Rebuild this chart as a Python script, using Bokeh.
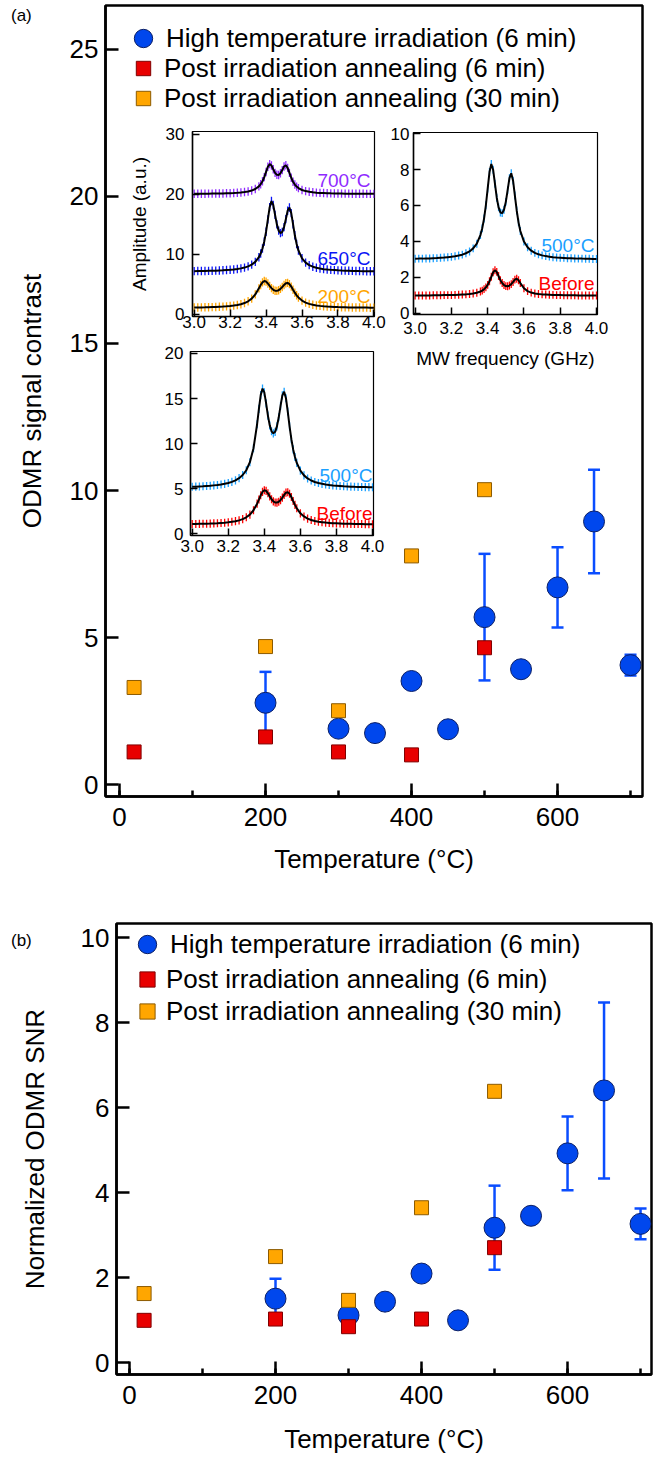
from bokeh.plotting import figure
from bokeh.layouts import column
from bokeh.models import (Range1d, SingleIntervalTicker, Legend, LegendItem, Whisker,
                          TeeHead, ColumnDataSource, Label, PrintfTickFormatter, Div)
from bokeh.embed import file_html
from bokeh.resources import INLINE

FONT = "Liberation Sans"

# ---------------- main data ----------------
series_labels = ["High temperature irradiation (6 min)",
                 "Post irradiation annealing (6 min)",
                 "Post irradiation annealing (30 min)"]

temp_hti = [200, 300, 350, 400, 450, 500, 550, 600, 650, 700]
contrast_hti = [2.79, 1.91, 1.76, 3.53, 1.89, 5.70, 3.93, 6.71, 8.95, 4.07]
temp_err = [200, 500, 600, 650, 700]
contrast_err = [1.05, 2.15, 1.36, 1.76, 0.35]

temp_pia = [20, 200, 300, 400, 500]
contrast_pia6 = [1.12, 1.63, 1.12, 1.02, 4.66]
contrast_pia30 = [3.31, 4.70, 2.52, 7.78, 10.03]

snr_hti = [1.51, 1.12, 1.44, 2.10, 1.00, 3.18, 3.46, 4.93, 6.41, 3.27]
snr_err = [0.47, 0.99, 0.87, 2.07, 0.36]
snr_pia6 = [1.00, 1.03, 0.85, 1.03, 2.71]
snr_pia30 = [1.63, 2.50, 1.47, 3.65, 6.39]

# ---------------- inset spectra (MW frequency in GHz) ----------------
freq = [3.00, 3.02, 3.04, 3.06, 3.08, 3.10, 3.12, 3.14, 3.16, 3.18, 3.20, 3.22, 3.24,
        3.26, 3.28, 3.30, 3.32, 3.34, 3.36,
        3.37, 3.38, 3.39, 3.40, 3.41, 3.42, 3.43, 3.44, 3.45, 3.46, 3.47, 3.48, 3.49,
        3.50, 3.51, 3.52, 3.53, 3.54, 3.55, 3.56, 3.57,
        3.58, 3.60, 3.62, 3.64, 3.66, 3.68, 3.70, 3.72, 3.74, 3.76, 3.78, 3.80, 3.82,
        3.84, 3.86, 3.88, 3.90, 3.92, 3.94, 3.96, 3.98, 4.00]

amp_hti_700 = [20.05, 20.05, 20.06, 20.06, 20.07, 20.08, 20.09, 20.10, 20.11, 20.13, 20.15, 20.18, 20.22,
               20.27, 20.34, 20.44, 20.59, 20.85, 21.29,
               21.65, 22.14, 22.83, 23.69, 24.55, 25.00, 24.76, 24.13, 23.54, 23.21, 23.19, 23.47, 24.00,
               24.59, 24.80, 24.36, 23.54, 22.72, 22.06, 21.59, 21.25,
               21.00, 20.68, 20.50, 20.38, 20.30, 20.24, 20.20, 20.17, 20.14, 20.12, 20.11, 20.09, 20.08,
               20.07, 20.07, 20.06, 20.05, 20.05, 20.05, 20.04, 20.04, 20.04]
amp_hti_650 = [7.16, 7.17, 7.18, 7.19, 7.21, 7.22, 7.24, 7.27, 7.30, 7.34, 7.38, 7.44, 7.52,
               7.62, 7.75, 7.95, 8.24, 8.70, 9.48,
               10.09, 10.93, 12.11, 13.73, 15.79, 17.82, 18.84, 18.19, 16.54, 14.95, 13.91, 13.49, 13.69,
               14.50, 15.83, 17.22, 17.76, 16.82, 14.98, 13.13, 11.67,
               10.61, 9.30, 8.58, 8.16, 7.90, 7.72, 7.59, 7.49, 7.42, 7.37, 7.33, 7.29, 7.26,
               7.24, 7.22, 7.20, 7.19, 7.17, 7.16, 7.15, 7.15, 7.14]
amp_hti_200 = [1.10, 1.11, 1.12, 1.13, 1.15, 1.17, 1.19, 1.22, 1.25, 1.29, 1.35, 1.42, 1.52,
               1.65, 1.84, 2.13, 2.58, 3.28, 4.29,
               4.84, 5.29, 5.51, 5.42, 5.10, 4.70, 4.33, 4.05, 3.90, 3.87, 3.97, 4.20, 4.51,
               4.86, 5.14, 5.20, 5.00, 4.58, 4.06, 3.57, 3.13,
               2.77, 2.25, 1.92, 1.70, 1.55, 1.44, 1.37, 1.31, 1.26, 1.23, 1.20, 1.17, 1.15,
               1.14, 1.12, 1.11, 1.10, 1.09, 1.09, 1.08, 1.07, 1.07]
amp_pia6_500 = [3.03, 3.04, 3.04, 3.05, 3.05, 3.06, 3.07, 3.09, 3.10, 3.12, 3.14, 3.17, 3.21,
                3.26, 3.34, 3.44, 3.61, 3.87, 4.35,
                4.73, 5.27, 6.01, 6.94, 7.86, 8.31, 7.99, 7.21, 6.43, 5.89, 5.61, 5.57, 5.76,
                6.20, 6.85, 7.52, 7.79, 7.38, 6.55, 5.72, 5.06,
                4.58, 3.99, 3.67, 3.48, 3.36, 3.28, 3.22, 3.18, 3.15, 3.12, 3.10, 3.09, 3.08,
                3.06, 3.06, 3.05, 3.04, 3.04, 3.03, 3.03, 3.02, 3.02]
amp_pia6_before = [0.99, 0.99, 0.99, 0.99, 0.99, 1.00, 1.00, 1.00, 1.01, 1.01, 1.01, 1.02, 1.03,
                   1.04, 1.05, 1.07, 1.10, 1.14, 1.21,
                   1.26, 1.34, 1.44, 1.58, 1.78, 2.03, 2.28, 2.39, 2.30, 2.07, 1.84, 1.68, 1.57,
                   1.51, 1.50, 1.54, 1.62, 1.74, 1.87, 1.92, 1.84,
                   1.68, 1.39, 1.23, 1.15, 1.10, 1.07, 1.05, 1.04, 1.03, 1.02, 1.01, 1.01, 1.00,
                   1.00, 1.00, 1.00, 0.99, 0.99, 0.99, 0.99, 0.99, 0.99]
amp_pia30_500 = [5.21, 5.23, 5.25, 5.27, 5.30, 5.33, 5.37, 5.41, 5.47, 5.54, 5.64, 5.76, 5.93,
                 6.17, 6.52, 7.05, 7.94, 9.49, 12.15,
                 13.85, 15.38, 16.11, 15.68, 14.46, 13.11, 12.03, 11.37, 11.14, 11.31, 11.91, 12.92, 14.19,
                 15.35, 15.75, 15.04, 13.56, 11.92, 10.49, 9.36, 8.51,
                 7.86, 7.00, 6.48, 6.14, 5.91, 5.75, 5.63, 5.54, 5.47, 5.41, 5.36, 5.33, 5.30,
                 5.27, 5.25, 5.23, 5.21, 5.20, 5.19, 5.18, 5.17, 5.16]
amp_pia30_before = [1.08, 1.09, 1.10, 1.11, 1.12, 1.13, 1.15, 1.17, 1.20, 1.23, 1.27, 1.33, 1.40,
                    1.49, 1.63, 1.83, 2.13, 2.61, 3.34,
                    3.80, 4.27, 4.65, 4.83, 4.76, 4.49, 4.15, 3.83, 3.60, 3.47, 3.46, 3.55, 3.74,
                    4.01, 4.32, 4.56, 4.61, 4.44, 4.08, 3.63, 3.21,
                    2.83, 2.27, 1.92, 1.68, 1.53, 1.42, 1.34, 1.29, 1.24, 1.21, 1.18, 1.16, 1.14,
                    1.12, 1.11, 1.10, 1.09, 1.08, 1.08, 1.07, 1.06, 1.06]

# ---------------- colours ----------------
BLUE, BLUE_EDGE, BAR = "#0047ED", "#0B1F66", "#0A4DFF"
RED, RED_EDGE = "#E80000", "#800000"
ORANGE, ORANGE_EDGE = "#FFA600", "#8C5A00"
PURPLE, BLUE650, ORANGE200, SKY, REDB = "#8F2BFF", "#0A14F5", "#FFA500", "#1AA0FF", "#FF0000"


def no_align(f):
    try:
        f.frame_align = False
    except Exception:
        pass


def style_main_axes(p, x_so, x_lso, y_so, y_lso):
    for ax in (p.xaxis[0], p.yaxis[0]):
        ax.axis_line_width = 2.5
        ax.axis_line_color = "black"
        ax.major_tick_in = 13
        ax.major_tick_out = 0
        ax.major_tick_line_width = 2.5
        ax.major_tick_line_color = "black"
        ax.minor_tick_in = 6
        ax.minor_tick_out = 0
        ax.minor_tick_line_width = 2.5
        ax.minor_tick_line_color = "black"
        ax.major_label_text_font = FONT
        ax.major_label_text_font_size = "26px"
        ax.major_label_text_color = "black"
        ax.axis_label_text_font = FONT
        ax.axis_label_text_font_size = "26px"
        ax.axis_label_text_font_style = "normal"
        ax.axis_label_text_color = "black"
    p.yaxis[0].minor_tick_line_color = None
    p.xaxis[0].major_label_standoff = x_so
    p.xaxis[0].axis_label_standoff = x_lso
    p.yaxis[0].major_label_standoff = y_so
    p.yaxis[0].axis_label_standoff = y_lso


def key_legend(p, renderer, label, loc, box, standoff, font="26px"):
    lg = Legend(items=[LegendItem(label=label, renderers=[renderer])], location=loc,
                glyph_width=box, glyph_height=box, label_height=box,
                label_standoff=standoff, padding=0, margin=0, spacing=0)
    lg.border_line_color = None
    lg.background_fill_alpha = 0
    lg.label_text_font = FONT
    lg.label_text_font_size = font
    lg.label_text_color = "black"
    p.add_layout(lg)


def main_panel(width, height, xr, yr, mb, ystep, ylabel, yvals, evals, v6, v30,
               legs, x_so, x_lso, y_so, y_lso):
    p = figure(width=width, height=height, x_range=Range1d(*xr), y_range=Range1d(*yr),
               min_border_left=mb[0], min_border_right=mb[1], min_border_top=mb[2],
               min_border_bottom=mb[3], output_backend="svg", toolbar_location=None)
    no_align(p)
    p.grid.visible = False
    p.outline_line_color = "black"
    p.outline_line_width = 2.5
    p.background_fill_color = "white"
    p.border_fill_color = "white"
    p.xaxis.ticker = SingleIntervalTicker(interval=200, num_minor_ticks=2)
    p.yaxis.ticker = SingleIntervalTicker(interval=ystep, num_minor_ticks=0)
    p.xaxis.axis_label = "Temperature (°C)"
    p.yaxis.axis_label = ylabel
    style_main_axes(p, x_so, x_lso, y_so, y_lso)

    centre = dict(zip(temp_hti, yvals))
    src = ColumnDataSource(dict(x=temp_err,
                                lower=[centre[t] - e for t, e in zip(temp_err, evals)],
                                upper=[centre[t] + e for t, e in zip(temp_err, evals)]))
    wk = Whisker(source=src, base="x", lower="lower", upper="upper", level="underlay",
                 line_color=BAR, line_width=2.5,
                 upper_head=TeeHead(size=12, line_color=BAR, line_width=2.5),
                 lower_head=TeeHead(size=12, line_color=BAR, line_width=2.5))
    p.add_layout(wk)

    r0 = p.scatter(temp_hti, yvals, marker="circle", size=21, fill_color=BLUE,
                   line_color=BLUE_EDGE, line_width=1)
    r1 = p.scatter(temp_pia, v6, marker="square", size=14, fill_color=RED,
                   line_color=RED_EDGE, line_width=1)
    r2 = p.scatter(temp_pia, v30, marker="square", size=14, fill_color=ORANGE,
                   line_color=ORANGE_EDGE, line_width=1)

    for r, lab, (loc, box, so) in zip((r0, r1, r2), series_labels, legs):
        key_legend(p, r, lab, loc, box, so)
    return p


def inset(fw, fh, xr, yr, borders, ystep, margin, x_so, y_so):
    ml, mr, mt, mb = borders
    f = figure(width=ml + fw + mr, height=mt + fh + mb, x_range=Range1d(*xr),
               y_range=Range1d(*yr), min_border_left=ml, min_border_right=mr,
               min_border_top=mt, min_border_bottom=mb, output_backend="svg",
               toolbar_location=None, margin=margin)
    no_align(f)
    f.grid.visible = False
    f.background_fill_color = "white"
    f.border_fill_color = None
    f.outline_line_color = "black"
    f.outline_line_width = 1.2
    f.xaxis.ticker = SingleIntervalTicker(interval=0.2, num_minor_ticks=0)
    f.xaxis.formatter = PrintfTickFormatter(format="%.1f")
    f.yaxis.ticker = SingleIntervalTicker(interval=ystep, num_minor_ticks=0)
    for ax, so in ((f.xaxis[0], x_so), (f.yaxis[0], y_so)):
        ax.axis_line_width = 1.5
        ax.axis_line_color = "black"
        ax.major_tick_in = 7
        ax.major_tick_out = 0
        ax.major_tick_line_width = 1.5
        ax.major_tick_line_color = "black"
        ax.minor_tick_line_color = None
        ax.major_label_text_font = FONT
        ax.major_label_text_font_size = "17px"
        ax.major_label_text_color = "black"
        ax.major_label_standoff = so
        ax.axis_label_text_font = FONT
        ax.axis_label_text_font_size = "19px"
        ax.axis_label_text_font_style = "normal"
        ax.axis_label_text_color = "black"
    return f


def spectrum(f, vals, color, delta):
    f.segment(x0=freq, y0=[v - delta for v in vals], x1=freq, y1=[v + delta for v in vals],
              line_color=color, line_width=1.3)
    f.line(freq, vals, line_color="black", line_width=2)


def temp_label(f, x, y, text, color):
    f.add_layout(Label(x=x, y=y, text=text, text_font=FONT, text_font_size="19px",
                       text_color=color, text_align="right", text_baseline="middle"))


def marker_key(f, marker, fill, edge, loc):
    r = f.scatter(x=[], y=[], marker=marker, fill_color=fill, line_color=edge, line_width=1)
    key_legend(f, r, "", loc, 33, 0, font="10px")


def panel_tag(text, margin):
    html = ('<span style="font-family:\'%s\';font-size:17px;color:black;'
            'line-height:20px;">%s</span>' % (FONT, text))
    return Div(text=html, width=30, height=20, margin=margin,
               styles={"font-family": FONT, "font-size": "17px", "color": "black",
                       "line-height": "20px"})


# ---------------- panel (a) ----------------
p_a = main_panel(650, 890, (-19.18, 716.4), (-0.394, 26.48), (105, 8, 5, 94), 5,
                 "ODMR signal contrast", contrast_hti, contrast_err,
                 contrast_pia6, contrast_pia30,
                 (((15, 735), 46, 0), ((20, 710), 36, 3), ((20, 680), 36, 3)),
                 11, 15, 7, 20)

# ---------------- insets ----------------
ins1 = inset(184, 185, (2.9906, 4.0033), (-0.4, 30.43), (65, 14, 10, 24), 10,
             (-769, 0, 550, 125), -1, 8)
ins1.yaxis.axis_label = "Amplitude (a.u.)"
ins1.yaxis.axis_label_standoff = 13
spectrum(ins1, amp_hti_700, PURPLE, 0.7)
spectrum(ins1, amp_hti_650, BLUE650, 0.7)
spectrum(ins1, amp_hti_200, ORANGE200, 0.7)
temp_label(ins1, 3.981, 22.2, "700°C", PURPLE)
temp_label(ins1, 3.981, 9.27, "650°C", BLUE650)
temp_label(ins1, 3.981, 3.0, "200°C", ORANGE200)
marker_key(ins1, "circle", BLUE, BLUE_EDGE, (6, 154))

ins2 = inset(184, 182, (2.991, 4.0055), (-0.07, 10.06), (28, 12, 10, 62), 2,
             (-768, 0, 514, 385), 7, 4)
ins2.xaxis.axis_label = "MW frequency (GHz)"
ins2.xaxis.axis_label_standoff = 11
spectrum(ins2, amp_pia6_500, SKY, 0.22)
spectrum(ins2, amp_pia6_before, REDB, 0.22)
temp_label(ins2, 3.989, 3.77, "500°C", SKY)
temp_label(ins2, 3.989, 1.68, "Before", REDB)
marker_key(ins2, "square", RED, RED_EDGE, (6, 151))

ins3 = inset(183, 184, (2.9906, 4.0055), (-0.19, 20.22), (65, 15, 10, 25), 5,
             (-549, 0, 330, 125), 4, 7)
spectrum(ins3, amp_pia30_500, SKY, 0.45)
spectrum(ins3, amp_pia30_before, REDB, 0.45)
temp_label(ins3, 4.0, 6.47, "500°C", SKY)
temp_label(ins3, 4.0, 2.3, "Before", REDB)
marker_key(ins3, "square", ORANGE, ORANGE_EDGE, (7, 152))

tag_a = panel_tag("(a)", (-884, 0, 864, 11))

# ---------------- panel (b) ----------------
p_b = main_panel(657, 571, (-17.8, 715.0), (-0.275, 10.34), (116, 6, 33, 87), 2,
                 "Normalized ODMR SNR", snr_hti, snr_err, snr_pia6, snr_pia30,
                 (((8, 407), 46, 0), ((12, 376), 38, 0), ((12, 344), 38, 0)),
                 11, 17, 7, 28)

tag_b = panel_tag("(b)", (-530, 0, 510, 11))

layout = column(p_a, ins1, ins2, ins3, tag_a, p_b, tag_b)
open("out.html", "w").write(file_html(layout, INLINE))
